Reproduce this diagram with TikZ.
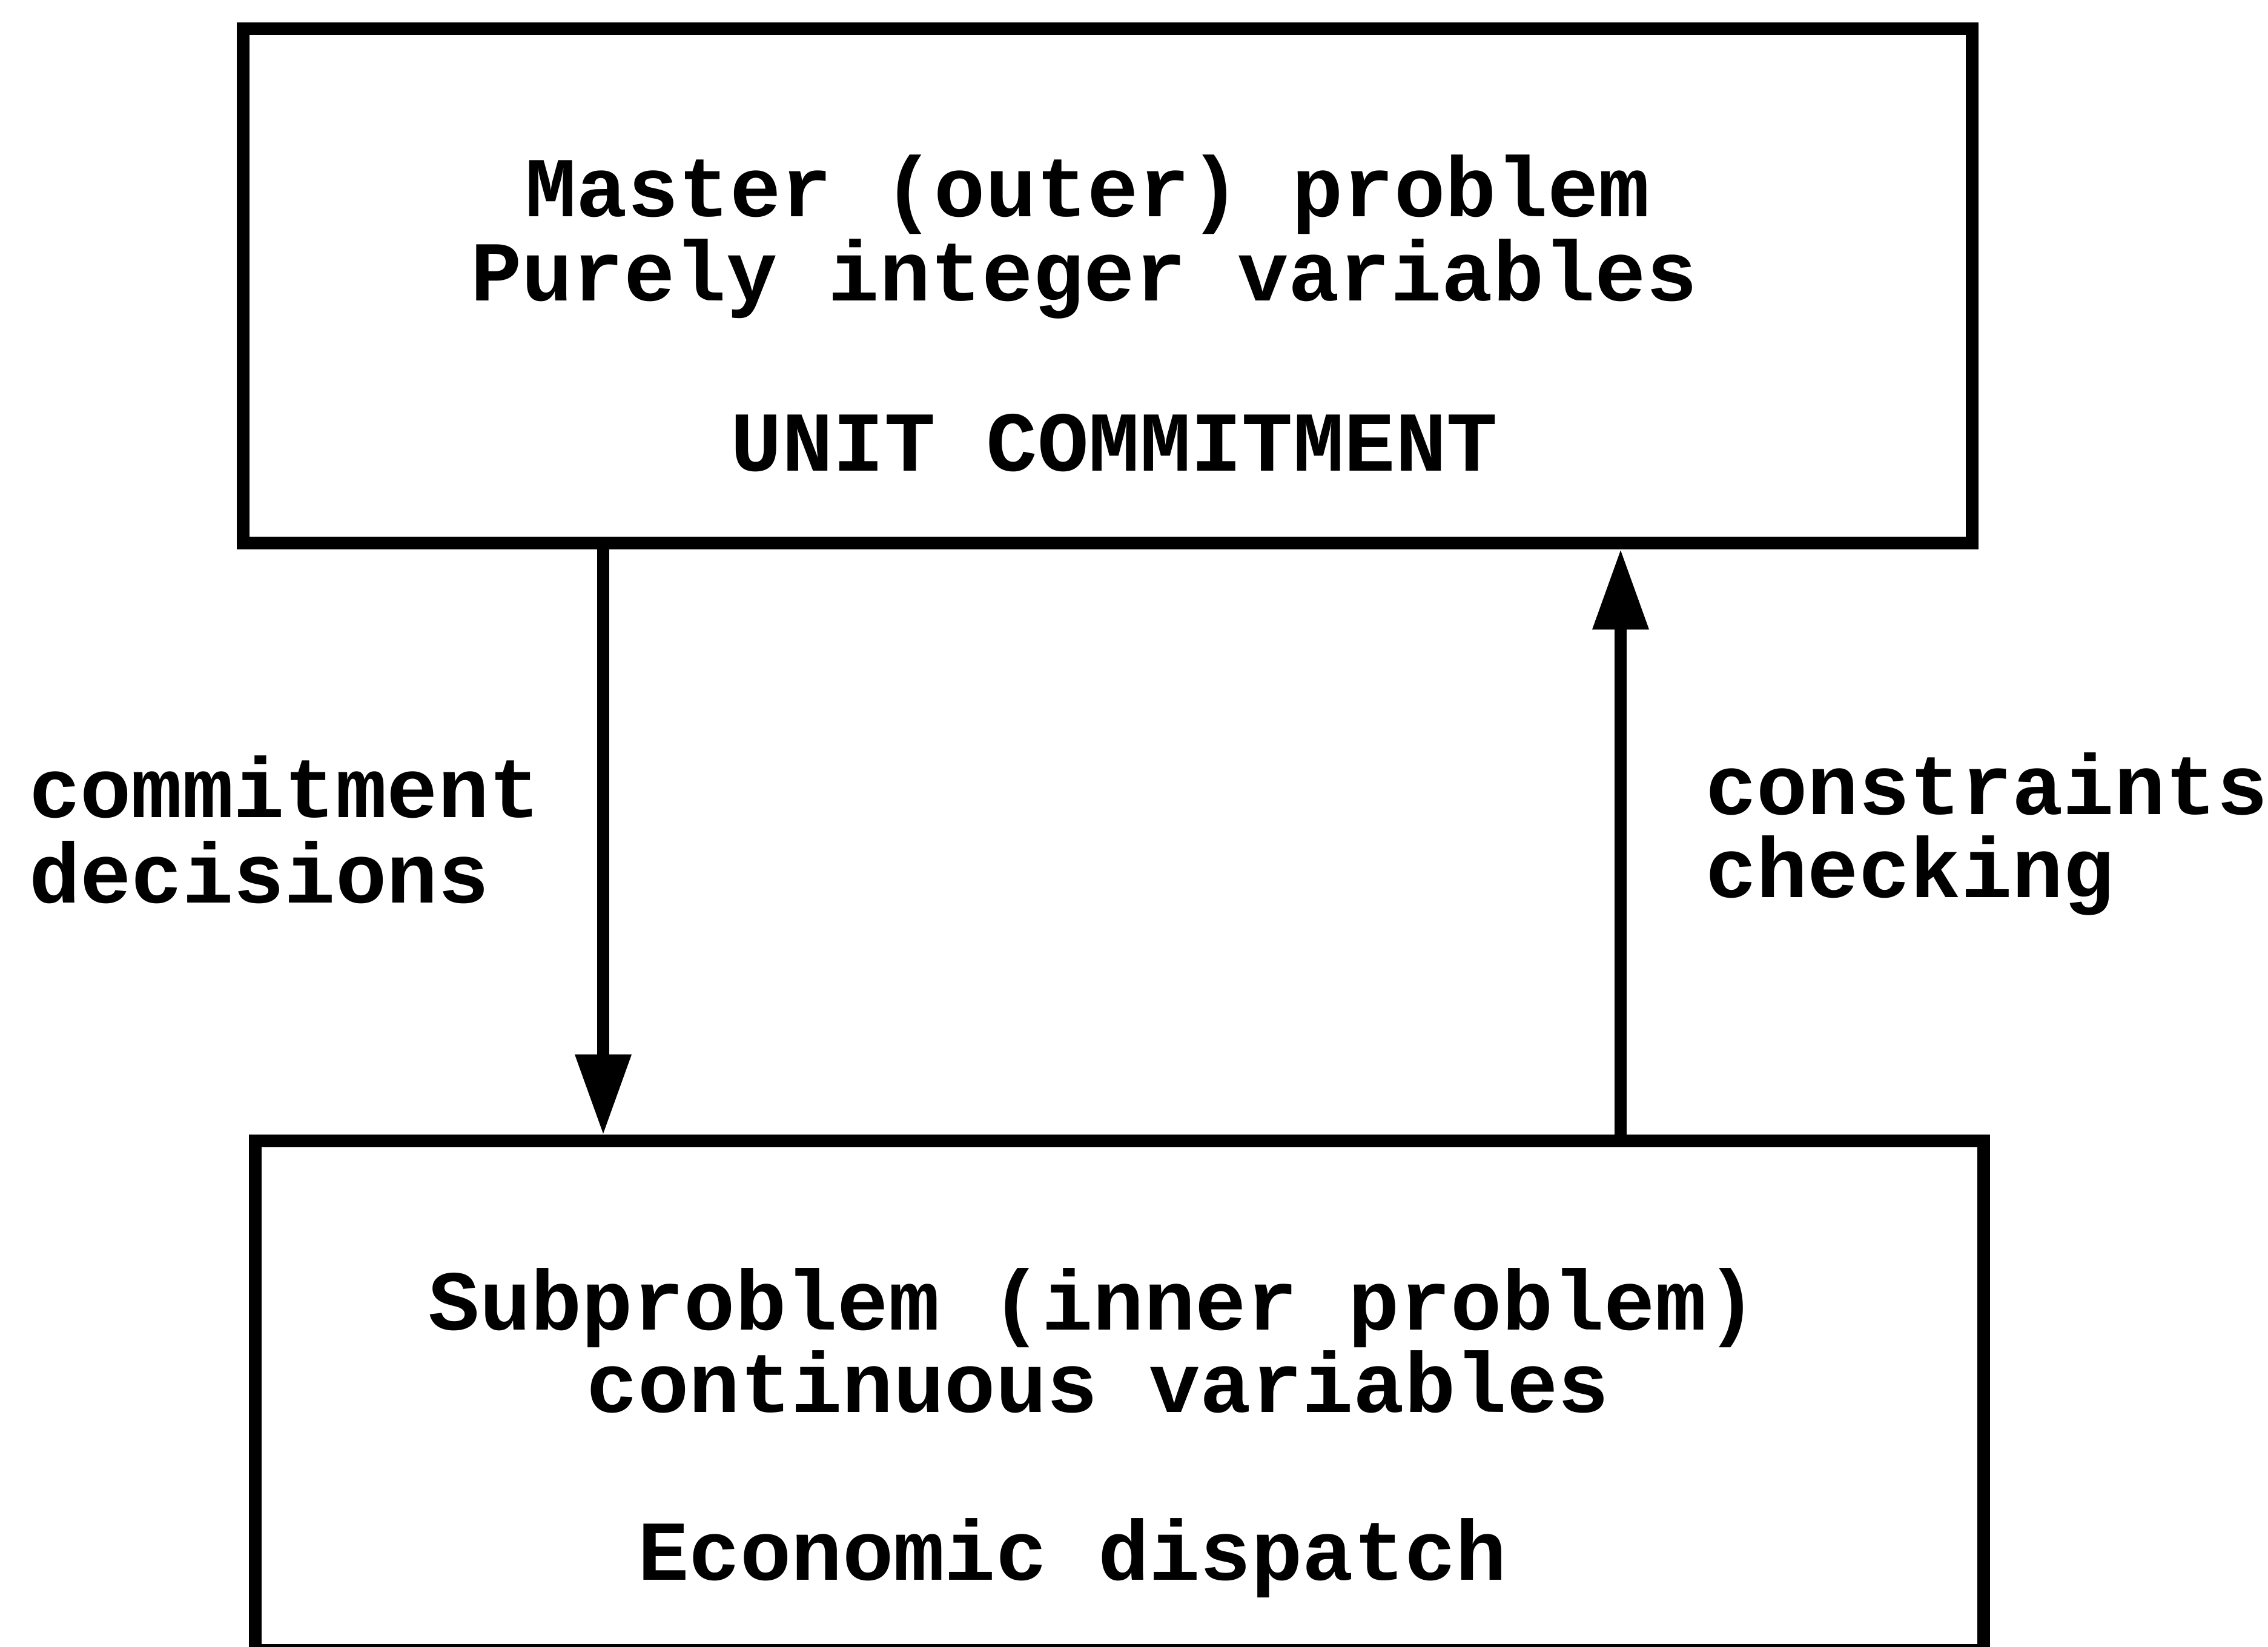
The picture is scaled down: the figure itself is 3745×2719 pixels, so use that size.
\documentclass[tikz,border=0pt]{standalone}
\usepackage{fontspec}
\newfontfamily\typewriter{Liberation Mono}
\usetikzlibrary{arrows.meta}
\begin{document}
\begin{tikzpicture}[x=0.01cm, y=-0.01cm,
  box/.style={draw, line width=0.21cm, rectangle, inner sep=0pt, outer sep=0pt},
  txt/.style={inner sep=0pt, outer sep=0pt,
    font=\typewriter\bfseries\fontsize{40pt}{40pt}\selectfont},
  flow/.style={line width=0.2cm, shorten >=0.1cm,
    -{Triangle[length=1.33cm, width=0.88cm]}}]
  \useasboundingbox (0,0) rectangle (3745,2719);

  % the two problem boxes
  \node[box, minimum width=28.54cm, minimum height=8.48cm] (master) at (1829,472) {};
  \node[box, minimum width=28.53cm, minimum height=8.40cm] (sub) at (1848.5,2304) {};

  % master problem text
  \node[txt, anchor=base] (m1) at (1796,358) {Master (outer) problem};
  \node[txt, anchor=base] (m2) at (1790,497) {Purely integer variables};
  \node[txt, anchor=base] (m3) at (1840,778) {UNIT COMMITMENT};

  % subproblem text
  \node[txt, anchor=base] (s1) at (1805,2195) {Subproblem (inner problem)};
  \node[txt, anchor=base] (s2) at (1813,2331) {continuous variables};
  \node[txt, anchor=base] (s3) at (1771,2608) {Economic dispatch};

  % connector positions
  \coordinate (lx) at (996,0);
  \coordinate (rx) at (2676,0);
  \draw[flow] (master.south -| lx) -- (sub.north -| lx);
  \draw[flow] (sub.north -| rx) -- (master.south -| rx);

  % connector labels
  \node[txt, anchor=base west] (l1) at (48,1349) {commitment};
  \node[txt, anchor=base west] (l2) at (48,1490) {decisions};
  \node[txt, anchor=base west] (r1) at (2816,1344) {constraints};
  \node[txt, anchor=base west] (r2) at (2816,1481) {checking};
\end{tikzpicture}
\end{document}
